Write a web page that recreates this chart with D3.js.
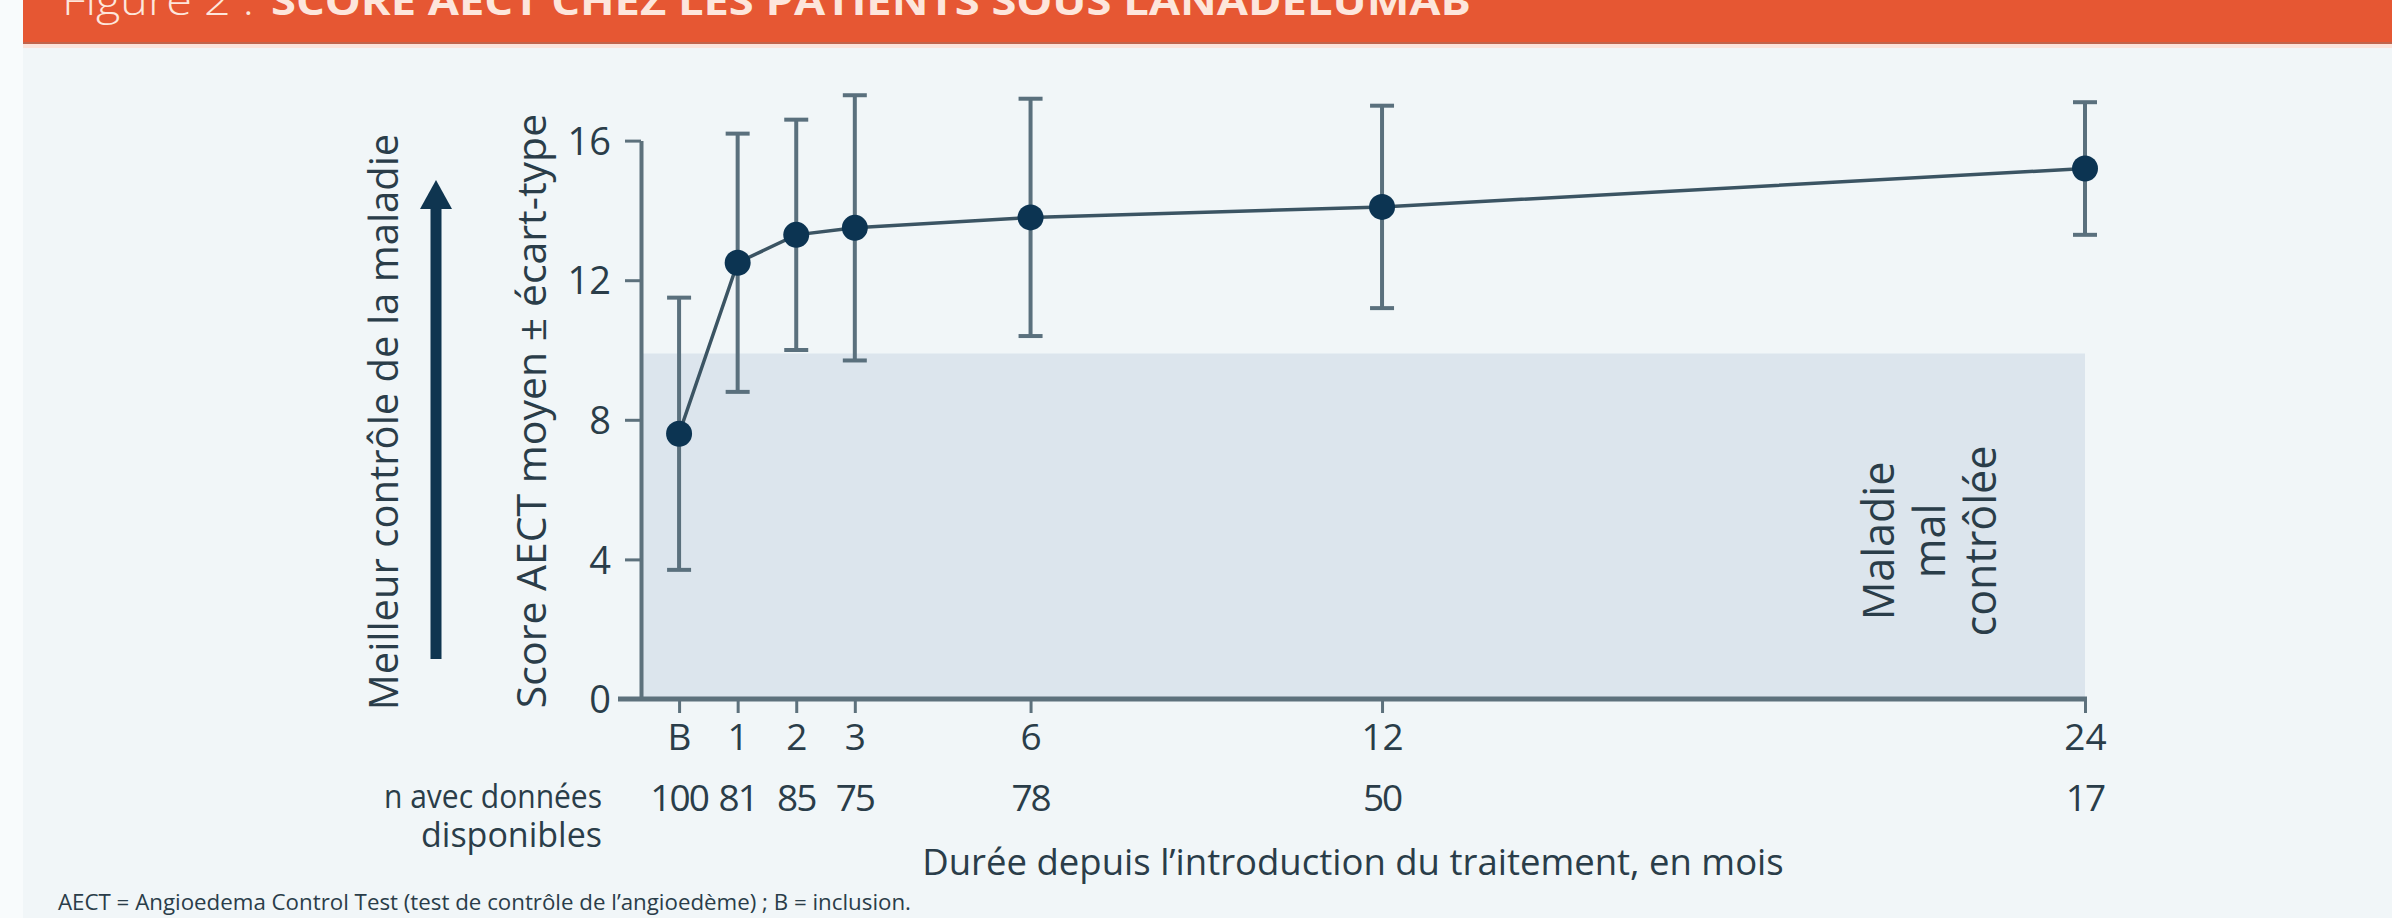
<!DOCTYPE html>
<html><head><meta charset="utf-8">
<script src="https://cdn.jsdelivr.net/npm/d3@7"></script>
<style>
html,body{margin:0;padding:0;background:#f8fbfc;}
svg{display:block;}
text{font-family:"Open Sans","Noto Sans",sans-serif;}
</style></head>
<body>
<svg id="c" width="2392" height="918"></svg>
<script>
// ---- data ----
const months = [0, 1, 2, 3, 6, 12, 24];
const tickLabels = ["B", "1", "2", "3", "6", "12", "24"];
const nAvailable = [100, 81, 85, 75, 78, 50, 17];
const meanScore = [7.6, 12.5, 13.3, 13.5, 13.8, 14.1, 15.2];
const upperSD = [11.5, 16.2, 16.6, 17.3, 17.2, 17.0, 17.1];
const lowerSD = [3.7, 8.8, 10.0, 9.7, 10.4, 11.2, 13.3];
const yTicks = [0, 4, 8, 12, 16];
const poorControlThreshold = 9.9;

const svg = d3.select("#c");
const W = 2392, H = 918;

// panel + banner
svg.append("rect").attr("x", 23).attr("y", 0).attr("width", W - 23).attr("height", H).attr("fill", "#f1f6f8");
svg.append("rect").attr("x", 23).attr("y", 43).attr("width", W - 23).attr("height", 5).attr("fill", "#fbe3db");
svg.append("rect").attr("x", 23).attr("y", 0).attr("width", W - 23).attr("height", 44).attr("fill", "#c0644c");
svg.append("rect").attr("x", 23).attr("y", 0).attr("width", W - 23).attr("height", 42).attr("fill", "#e65733");
svg.append("text").attr("x", 62).attr("y", 15).attr("fill", "#fde6dc").attr("font-size", 40)
  .attr("font-weight", 300).attr("textLength", 192).attr("lengthAdjust", "spacingAndGlyphs")
  .text("Figure 2 :");
svg.append("text").attr("x", 271).attr("y", 15).attr("fill", "#fde6dc").attr("font-size", 40)
  .attr("font-weight", 700).attr("textLength", 1200).attr("lengthAdjust", "spacingAndGlyphs")
  .text("SCORE AECT CHEZ LES PATIENTS SOUS LANADELUMAB");

// scales
const x = d3.scaleLinear().domain([-0.65, 24]).range([641, 2085]);
const y = d3.scaleLinear().domain([0, 16]).range([699, 140.6]);
const axisCol = "#5d717c", textCol = "#2a3d49";

// shaded poor-control area
svg.append("rect")
  .attr("x", x(-0.65)).attr("y", y(poorControlThreshold))
  .attr("width", x(24) - x(-0.65)).attr("height", y(0) - y(poorControlThreshold))
  .attr("fill", "#dce5ed");

// y axis
const yAxis = svg.append("g").attr("transform", `translate(${x(-0.65)},0)`)
  .call(d3.axisLeft(y).tickValues(yTicks).tickSize(16).tickSizeOuter(0).tickPadding(14));
yAxis.select(".domain").attr("stroke", axisCol).attr("stroke-width", 4);
yAxis.selectAll(".tick line").attr("stroke", axisCol).attr("stroke-width", 3);
yAxis.selectAll(".tick text").attr("fill", textCol).attr("font-size", 38)
  .attr("font-family", "Open Sans").attr("dy", "0.36em");

// x axis
const xAxis = svg.append("g").attr("transform", `translate(0,${y(0)})`)
  .call(d3.axisBottom(x).tickValues(months).tickSize(14).tickSizeOuter(0).tickPadding(8)
    .tickFormat((d, i) => tickLabels[i]));
xAxis.select(".domain").remove();
xAxis.selectAll(".tick line").attr("stroke", axisCol).attr("stroke-width", 3);
xAxis.selectAll(".tick text").attr("fill", textCol).attr("font-size", 37)
  .attr("font-family", "Open Sans").attr("dy", "0.78em");
svg.append("line").attr("x1", x(-0.65) - 23).attr("x2", x(24) + 2)
  .attr("y1", y(0)).attr("y2", y(0)).attr("stroke", axisCol).attr("stroke-width", 5);

// n row
svg.append("g").selectAll("text").data(nAvailable).join("text")
  .attr("x", (d, i) => x(months[i])).attr("y", 811)
  .attr("text-anchor", "middle").attr("fill", textCol).attr("font-size", 37)
  .attr("letter-spacing", -2)
  .text(d => d);
svg.append("text").attr("x", 602).attr("y", 808).attr("text-anchor", "end")
  .attr("fill", textCol).attr("font-size", 32).attr("textLength", 218).attr("lengthAdjust", "spacingAndGlyphs")
  .text("n avec données");
svg.append("text").attr("x", 602).attr("y", 847).attr("text-anchor", "end")
  .attr("fill", textCol).attr("font-size", 34).text("disponibles");

// x title
svg.append("text").attr("x", 1353).attr("y", 875).attr("text-anchor", "middle")
  .attr("fill", textCol).attr("font-size", 36.5)
  .text("Durée depuis l’introduction du traitement, en mois");

// footnote
svg.append("text").attr("x", 58).attr("y", 910).attr("fill", textCol).attr("font-size", 22.3)
  .text("AECT = Angioedema Control Test (test de contrôle de l’angioedème) ; B = inclusion.");

// y title
svg.append("text").attr("transform", "translate(546,411) rotate(-90)").attr("text-anchor", "middle")
  .attr("fill", textCol).attr("font-size", 41).text("Score AECT moyen ± écart-type");
svg.append("text").attr("transform", "translate(398,422) rotate(-90)").attr("text-anchor", "middle")
  .attr("fill", textCol).attr("font-size", 40).text("Meilleur contrôle de la maladie");

// arrow
svg.append("line").attr("x1", 436).attr("x2", 436).attr("y1", 659).attr("y2", 200)
  .attr("stroke", "#0f3550").attr("stroke-width", 11);
svg.append("path").attr("d", "M420,209 L436,180 L452,209 Z").attr("fill", "#0f3550");

// shaded label
const lbl = ["Maladie", "mal", "contrôlée"];
svg.append("g").selectAll("text").data(lbl).join("text")
  .attr("transform", (d, i) => `translate(${1894 + i * 51},541) rotate(-90)`)
  .attr("text-anchor", "middle").attr("fill", textCol).attr("font-size", 43)
  .text(d => d);

// error bars
const eb = svg.append("g").attr("stroke", "#5a707d").attr("stroke-width", 4);
eb.selectAll("line.v").data(months).join("line").attr("class", "v")
  .attr("x1", d => x(d)).attr("x2", d => x(d))
  .attr("y1", (d, i) => y(upperSD[i])).attr("y2", (d, i) => y(lowerSD[i]));
eb.selectAll("line.u").data(months).join("line").attr("class", "u")
  .attr("x1", d => x(d) - 12).attr("x2", d => x(d) + 12)
  .attr("y1", (d, i) => y(upperSD[i])).attr("y2", (d, i) => y(upperSD[i]));
eb.selectAll("line.l").data(months).join("line").attr("class", "l")
  .attr("x1", d => x(d) - 12).attr("x2", d => x(d) + 12)
  .attr("y1", (d, i) => y(lowerSD[i])).attr("y2", (d, i) => y(lowerSD[i]));

// line
svg.append("path").datum(months.map((m, i) => [m, meanScore[i]]))
  .attr("d", d3.line().x(d => x(d[0])).y(d => y(d[1])))
  .attr("fill", "none").attr("stroke", "#3b5463").attr("stroke-width", 3.5);

// points
svg.append("g").selectAll("circle").data(months).join("circle")
  .attr("cx", d => x(d)).attr("cy", (d, i) => y(meanScore[i])).attr("r", 13)
  .attr("fill", "#0c3452");
</script>
</body></html>
